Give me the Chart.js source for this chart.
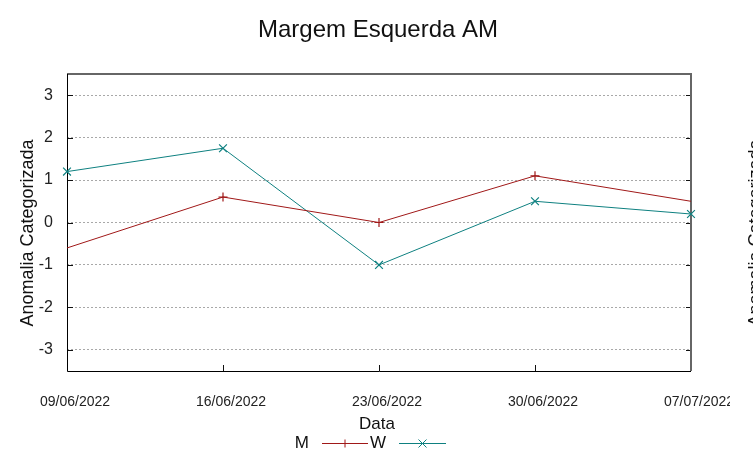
<!DOCTYPE html>
<html>
<head>
<meta charset="utf-8">
<script src="https://cdn.jsdelivr.net/npm/chart.js@4.4.1/dist/chart.umd.min.js"></script>
<style>
    html, body { margin: 0; padding: 0; background: #fff; }
    #wrap { width: 753px; height: 459px; }
</style>
</head>
<body>
<div id="wrap"><canvas id="chart"></canvas></div>
<script>
const categories = ['09/06/2022', '16/06/2022', '23/06/2022', '30/06/2022', '07/07/2022'];
const seriesNames = ['M', 'W'];
const mValues = [-0.6, 0.6, 0, 1.1, 0.5];
const wValues = [1.2, 1.75, -1, 0.5, 0.2];
const yTicks = [-3, -2, -1, 0, 1, 2, 3];
const titleText = 'Margem Esquerda AM';
const xTitle = 'Data';
const yTitle = 'Anomalia Categorizada';

const mColor = '#a01818';
const wColor = '#0e8080';
const font = "'Liberation Sans', Arial, sans-serif";

// moldura, ticks para dentro e textos no estilo gnuplot
const frame = {
    id: 'frame',
    beforeDatasetsDraw(chart) {
        const { ctx, chartArea: a, scales } = chart;
        ctx.save();
        // ticks
        ctx.strokeStyle = '#111';
        ctx.lineWidth = 1;
        yTicks.forEach(v => {
            const y = Math.round(scales.y.getPixelForValue(v)) + 0.5;
            ctx.beginPath();
            ctx.moveTo(a.left, y); ctx.lineTo(a.left + 6, y);
            ctx.moveTo(a.right - 5, y); ctx.lineTo(a.right, y);
            ctx.stroke();
        });
        categories.forEach((c, i) => {
            const x = Math.round(scales.x.getPixelForValue(i)) + 0.5;
            ctx.beginPath();
            ctx.moveTo(x, a.bottom); ctx.lineTo(x, a.bottom - 6);
            ctx.stroke();
        });
        // borda
        ctx.strokeStyle = '#666';
        ctx.lineWidth = 2;
        ctx.beginPath();
        ctx.moveTo(a.left, a.top); ctx.lineTo(a.right, a.top); ctx.lineTo(a.right, a.bottom);
        ctx.stroke();
        ctx.strokeStyle = '#000';
        ctx.lineWidth = 1;
        ctx.beginPath();
        ctx.moveTo(a.left + 0.5, a.top); ctx.lineTo(a.left + 0.5, a.bottom + 0.5); ctx.lineTo(a.right, a.bottom + 0.5);
        ctx.stroke();
        ctx.restore();
    },
    afterDraw(chart) {
        const { ctx } = chart;
        ctx.save();
        // ultimo rotulo cortado como na imagem original
        ctx.fillStyle = '#fff';
        ctx.fillRect(730, 388, 16, 24);

        ctx.fillStyle = '#111';
        ctx.textAlign = 'center';
        ctx.textBaseline = 'alphabetic';
        ctx.font = `24px ${font}`;
        ctx.fillText(titleText, 378, 37);
        ctx.font = `17px ${font}`;
        ctx.fillText(xTitle, 377, 429);

        ctx.font = `18px ${font}`;
        [33, 761].forEach(bx => {
            ctx.save();
            ctx.translate(bx, 233);
            ctx.rotate(-Math.PI / 2);
            ctx.fillText(yTitle, 0, 0);
            ctx.restore();
        });

        // legenda
        const items = [
            { label: seriesNames[0], color: mColor, textRight: 309, x1: 322, x2: 368, style: 'cross' },
            { label: seriesNames[1], color: wColor, textRight: 386, x1: 399, x2: 446, style: 'crossRot' }
        ];
        const ly = 443.5;
        ctx.font = `17px ${font}`;
        ctx.textAlign = 'right';
        items.forEach(it => {
            ctx.fillStyle = '#111';
            ctx.fillText(it.label, it.textRight, 448);
            ctx.strokeStyle = it.color;
            ctx.lineWidth = 1;
            ctx.beginPath();
            ctx.moveTo(it.x1, ly); ctx.lineTo(it.x2, ly);
            ctx.stroke();
            const cx = (it.x1 + it.x2) / 2;
            ctx.beginPath();
            if (it.style === 'cross') {
                ctx.moveTo(cx, ly - 4); ctx.lineTo(cx, ly + 4);
            } else {
                ctx.moveTo(cx - 4, ly - 4); ctx.lineTo(cx + 4, ly + 4);
                ctx.moveTo(cx - 4, ly + 4); ctx.lineTo(cx + 4, ly - 4);
            }
            ctx.stroke();
        });
        ctx.restore();
    }
};

const last = categories.length - 1;
const ctx = document.getElementById('chart').getContext('2d');
new Chart(ctx, {
    type: 'line',
    data: {
        labels: categories,
        datasets: [{
            label: seriesNames[0],
            data: mValues,
            borderColor: mColor,
            backgroundColor: mColor,
            borderWidth: 1,
            pointStyle: 'cross',
            pointRadius: c => (c.dataIndex === 0 || c.dataIndex === last) ? 0 : 4.5,
            pointBorderWidth: 1.2,
            tension: 0,
            clip: false
        }, {
            label: seriesNames[1],
            data: wValues,
            borderColor: wColor,
            backgroundColor: wColor,
            borderWidth: 1,
            pointStyle: 'crossRot',
            pointRadius: 5.5,
            pointBorderWidth: 1.2,
            tension: 0,
            clip: false
        }]
    },
    options: {
        responsive: true,
        maintainAspectRatio: false,
        animation: false,
        layout: { padding: { left: 0, right: 62, top: 74, bottom: 0 } },
        plugins: {
            legend: { display: false },
            title: { display: false },
            tooltip: { enabled: false }
        },
        scales: {
            x: {
                type: 'category',
                offset: false,
                grid: { display: false },
                border: { display: false },
                ticks: {
                    maxRotation: 0,
                    minRotation: 0,
                    autoSkip: false,
                    labelOffset: 8,
                    padding: 15,
                    color: '#222',
                    font: { family: font, size: 14 }
                },
                afterFit(scale) {
                    scale.height = 88;
                    scale.paddingLeft = 0;
                    scale.paddingRight = 0;
                }
            },
            y: {
                min: -3.5,
                max: 3.5,
                afterBuildTicks(scale) {
                    scale.ticks = yTicks.map(v => ({ value: v }));
                },
                grid: {
                    color: '#a8a8a8',
                    lineWidth: 1,
                    drawTicks: false
                },
                border: { display: false, dash: [2, 2] },
                ticks: {
                    padding: 14,
                    color: '#222',
                    font: { family: font, size: 16 }
                },
                afterFit(scale) {
                    scale.width = 67;
                }
            }
        }
    },
    plugins: [frame]
});
</script>
</body>
</html>
